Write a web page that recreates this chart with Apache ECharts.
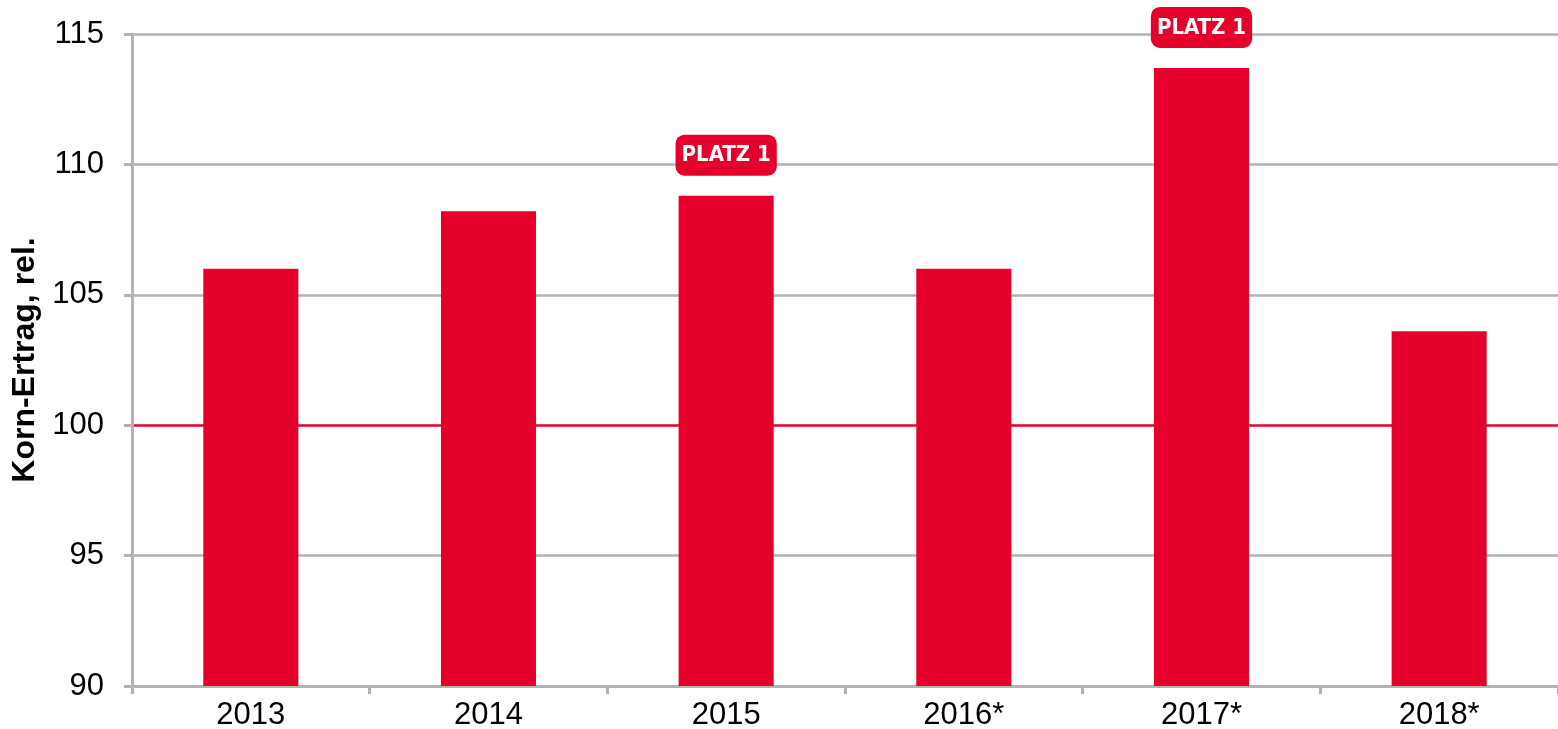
<!DOCTYPE html>
<html>
<head>
<meta charset="utf-8">
<script src="https://cdn.jsdelivr.net/npm/echarts@6/dist/echarts.min.js"></script>
<style>
  html, body { margin: 0; padding: 0; background: #fff; }
  #chart { width: 1558px; height: 729px; }
</style>
</head>
<body>
<div id="chart"></div>
<script>
const years = ["2013", "2014", "2015", "2016*", "2017*", "2018*"];
const yields = [106.0, 108.2, 108.8, 106.0, 113.7, 103.6];
const winners = ["2015", "2017*"];

const red = "#e4002b";
const grey = "#b3b3b3";
const font = "'Liberation Sans', Arial, sans-serif";

const chart = echarts.init(document.getElementById("chart"), null, { renderer: "canvas" });

const data = yields.map((v, i) => {
  const item = { value: v };
  if (winners.includes(years[i])) {
    item.label = {
      show: true,
      position: "top",
      distance: 20,
      formatter: "PLATZ 1",
      color: "#fff",
      fontWeight: "bold",
      fontSize: 22,
      fontFamily: "'DejaVu Sans Condensed', 'Liberation Sans Narrow', sans-serif",
      backgroundColor: red,
      borderRadius: 9,
      padding: [10, 6, 9, 6]
    };
  }
  return item;
});

chart.setOption({
  animation: false,
  grid: { left: 132, right: 0, top: 34, bottom: 43, outerBoundsMode: "none", containLabel: false },
  xAxis: {
    type: "category",
    data: years,
    boundaryGap: true,
    axisLine: { lineStyle: { color: grey, width: 3 } },
    axisTick: { show: true, length: 8, lineStyle: { color: grey, width: 3 } },
    axisLabel: { color: "#000", fontSize: 31, fontFamily: font, margin: 14 }
  },
  yAxis: {
    type: "value",
    min: 90,
    max: 115,
    interval: 5,
    name: "Korn-Ertrag, rel.",
    nameLocation: "middle",
    nameGap: 80,
    nameTextStyle: { color: "#000", fontSize: 32, fontWeight: "bold", fontFamily: font },
    axisLine: { show: true, lineStyle: { color: grey, width: 3 } },
    axisTick: { show: true, length: 8, lineStyle: { color: grey, width: 3 } },
    axisLabel: { color: "#000", fontSize: 31, fontFamily: font, margin: 28 },
    splitLine: { show: true, lineStyle: { color: [grey, grey, red, grey, grey, grey], width: 2.5 } }
  },
  series: [{
    type: "bar",
    data: data,
    barWidth: "40%",
    itemStyle: { color: red }
  }]
});
</script>
</body>
</html>
